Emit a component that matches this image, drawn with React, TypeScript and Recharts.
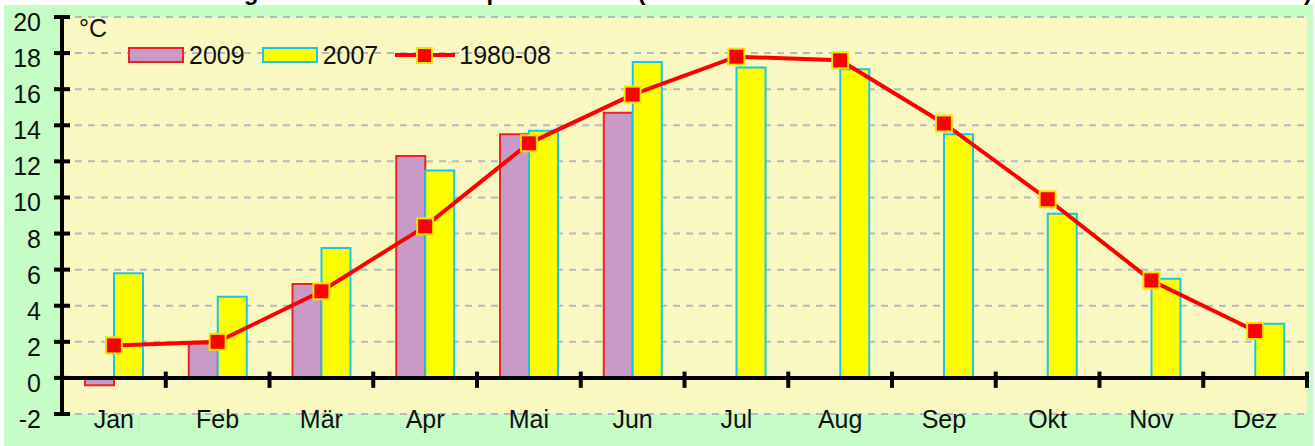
import {
  ComposedChart, Bar, Line, XAxis, YAxis, CartesianGrid, ReferenceLine,
} from 'recharts'

const MONATE = ['Jan', 'Feb', 'Mär', 'Apr', 'Mai', 'Jun', 'Jul', 'Aug', 'Sep', 'Okt', 'Nov', 'Dez']
const WERTE_2009 = [-0.4, 1.9, 5.2, 12.3, 13.5, 14.7, null, null, null, null, null, null]
const WERTE_2007 = [5.8, 4.5, 7.2, 11.5, 13.7, 17.5, 17.2, 17.1, 13.5, 9.1, 5.5, 3.0]
const MITTEL_1980_08 = [1.8, 2.0, 4.8, 8.4, 13.0, 15.7, 17.8, 17.6, 14.1, 9.9, 5.4, 2.6]
const Y_TICKS = [-2, 0, 2, 4, 6, 8, 10, 12, 14, 16, 18, 20]

const TITEL = 'Tagesdurchschnittstemperatur in °C (Monatsmittel Wien Innere Stadt und Mittelwert der Station)'

const FONT = '"Liberation Sans", Arial, sans-serif'
const GRUEN = '#c6fcc6'
const GELB_PLOT = '#f8f8c0'
const LILA = '#c89ac8'
const ROT_RAND = '#ee2222'
const GELB_BAR = '#ffff00'
const CYAN = '#18c8e8'
const ROT = '#ff0000'
const MARKER_RAND = '#f2e400'

const daten = MONATE.map((monat, i) => ({
  monat,
  j2009: WERTE_2009[i],
  j2007: WERTE_2007[i],
  mittel: MITTEL_1980_08[i],
}))

const YTick = ({ x, y, payload }: any) => (
  <g>
    <line x1={x - 8} x2={x + 8} y1={y} y2={y} stroke="#000" strokeWidth={4} />
    <text x={x - 21} y={y + 14} textAnchor="end" fontSize={25} fontFamily={FONT} fill="#111">
      {payload.value}
    </text>
  </g>
)

const XTick = ({ x, y, payload }: any) => (
  <text x={x} y={y + 14} textAnchor="middle" fontSize={25} fontFamily={FONT} fill="#111">
    {payload.value}
  </text>
)

const Quadrat = ({ cx, cy }: any) => {
  if (cx == null || cy == null) return null
  return <rect x={cx - 8} y={cy - 8} width={16} height={16} fill={ROT} stroke={MARKER_RAND} strokeWidth={2} />
}

function Legende() {
  const text = { fontSize: 25, fontFamily: FONT, color: '#111', lineHeight: '25px' }
  const box = (fill: string, rand: string) => (
    <div style={{ width: 52, height: 12, background: fill, border: `2px solid ${rand}` }} />
  )
  return (
    <div style={{ position: 'absolute', left: 128, top: 42, display: 'flex', alignItems: 'center', height: 26 }}>
      {box(LILA, ROT_RAND)}
      <span style={{ ...text, marginLeft: 5, marginRight: 17 }}>2009</span>
      {box(GELB_BAR, CYAN)}
      <span style={{ ...text, marginLeft: 5, marginRight: 16 }}>2007</span>
      <svg width={62} height={20}>
        <line x1={1} x2={61} y1={10} y2={10} stroke={ROT} strokeWidth={4} />
        <rect x={23} y={3} width={15} height={15} fill={ROT} stroke={MARKER_RAND} strokeWidth={2} />
      </svg>
      <span style={{ ...text, marginLeft: 3 }}>1980-08</span>
    </div>
  )
}

export default function App() {
  return (
    <div style={{ position: 'fixed', left: 0, top: 0, width: 1315, height: 446, overflow: 'hidden', background: '#fff' }}>
      {/* Titel, oben abgeschnitten wie im Original */}
      <svg style={{ position: 'absolute', left: 0, top: 0 }} width={1315} height={6}>
        <text x={1312} y={0} textAnchor="end" fontSize={24} fontWeight="bold" fontFamily={FONT} fill="#000">
          {TITEL}
        </text>
      </svg>
      <div style={{ position: 'absolute', left: 4, top: 5, width: 1309, height: 441, background: GRUEN }} />

      <div style={{ position: 'absolute', left: 0, top: 0 }}>
        <ComposedChart
          width={1315}
          height={446}
          data={daten}
          margin={{ top: 17, right: 8, bottom: 0, left: 0 }}
          barGap={0}
          barSize={29}
        >
          <CartesianGrid
            vertical={false}
            stroke="#b8b8c4"
            strokeWidth={2}
            strokeDasharray="7 6"
            fill={GELB_PLOT}
          />
          <XAxis
            dataKey="monat"
            height={32}
            axisLine={false}
            tickLine={false}
            tickSize={0}
            tickMargin={0}
            interval={0}
            tick={<XTick />}
          />
          <YAxis
            width={62}
            domain={[-2, 20]}
            ticks={Y_TICKS}
            interval={0}
            axisLine={{ stroke: '#000', strokeWidth: 4 }}
            tickLine={false}
            tickSize={0}
            tickMargin={0}
            tick={<YTick />}
          />
          <Bar dataKey="j2009" name="2009" fill={LILA} stroke={ROT_RAND} strokeWidth={2} isAnimationActive={false} />
          <Bar dataKey="j2007" name="2007" fill={GELB_BAR} stroke={CYAN} strokeWidth={2} isAnimationActive={false} />
          <ReferenceLine y={0} stroke="#000" strokeWidth={4} />
          {/* Teilstriche an den Monatsgrenzen auf der Nulllinie */}
          {MONATE.map((m) => (
            <ReferenceLine
              key={m}
              position="end"
              segment={[{ x: m, y: 0.35 }, { x: m, y: -0.55 }]}
              stroke="#000"
              strokeWidth={4}
              ifOverflow="visible"
            />
          ))}
          <Line
            type="linear"
            dataKey="mittel"
            name="1980-08"
            stroke={ROT}
            strokeWidth={4}
            dot={<Quadrat />}
            activeDot={false}
            isAnimationActive={false}
          />
        </ComposedChart>
      </div>

      <div style={{ position: 'absolute', left: 79, top: 14, fontSize: 25, fontFamily: FONT, color: '#111' }}>°C</div>
      <Legende />
    </div>
  )
}
